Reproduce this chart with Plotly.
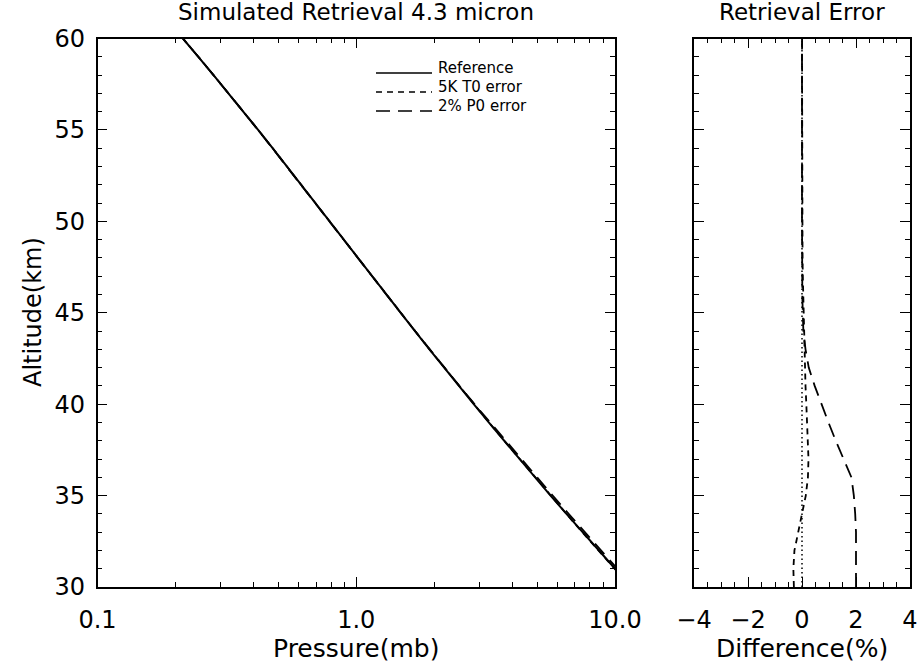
import plotly.graph_objects as go

# ---------------- data ----------------
altitude_km = list(range(30, 61))
p_reference_mb = [11.56, 9.986, 8.639, 7.482, 6.491, 5.636, 4.903, 4.272, 3.724, 3.252,
                  2.845, 2.491, 2.185, 1.918, 1.687, 1.483, 1.307, 1.151, 1.015, 0.8952,
                  0.7897, 0.6961, 0.6134, 0.5401, 0.4752, 0.4176, 0.3664, 0.3211, 0.2809,
                  0.2453, 0.2138]
diff_T0_pct = [-0.30, -0.32, -0.28, -0.15, 0.00, 0.14, 0.22, 0.24, 0.22, 0.19,
               0.16, 0.13, 0.11, 0.09, 0.07, 0.05, 0.04, 0.03, 0.02, 0.02,
               0.02, 0.01, 0.01, 0.01, 0.01, 0.01, 0.01, 0.0, 0.0, 0.0, 0.0]
diff_P0_pct = [2.00, 2.00, 2.00, 2.00, 1.97, 1.92, 1.83, 1.53, 1.25, 0.98,
               0.72, 0.47, 0.25, 0.13, 0.05, 0.02, 0.01, 0.01, 0.0, 0.0,
               0.0, 0.0, 0.0, 0.0, 0.0, 0.0, 0.0, 0.0, 0.0, 0.0, 0.0]
diff_zero_pct = [0.0] * len(altitude_km)

p_T0_mb = [p * (1 + d / 100) for p, d in zip(p_reference_mb, diff_T0_pct)]
p_P0_mb = [p * (1 + d / 100) for p, d in zip(p_reference_mb, diff_P0_pct)]

left_xticks = [0.1, 1.0, 10.0]
left_xticktext = ["0.1", "1.0", "10.0"]
series_names = ["Reference", "5K T0 error", "2% P0 error"]

# ---------------- styling ----------------
W, H = 923, 664
FONT = "DejaVu Sans"
SHORT = "6px,5px"
LONG = "14px,8px"
DASHES = ["solid", SHORT, LONG]

fig = go.Figure()
fig.add_trace(go.Scatter(x=p_reference_mb, y=altitude_km, mode="lines", name=series_names[0],
                         line=dict(color="black", width=2), xaxis="x", yaxis="y"))
fig.add_trace(go.Scatter(x=p_T0_mb, y=altitude_km, mode="lines", name=series_names[1],
                         line=dict(color="black", width=1.8, dash=SHORT), xaxis="x", yaxis="y"))
fig.add_trace(go.Scatter(x=p_P0_mb, y=altitude_km, mode="lines", name=series_names[2],
                         line=dict(color="black", width=1.8, dash=LONG), xaxis="x", yaxis="y"))

fig.add_trace(go.Scatter(x=diff_zero_pct, y=altitude_km, mode="lines",
                         line=dict(color="black", width=1.5, dash="1.5px,3px"), xaxis="x2", yaxis="y2"))
fig.add_trace(go.Scatter(x=diff_T0_pct, y=altitude_km, mode="lines",
                         line=dict(color="black", width=1.8, dash=SHORT), xaxis="x2", yaxis="y2"))
fig.add_trace(go.Scatter(x=diff_P0_pct, y=altitude_km, mode="lines",
                         line=dict(color="black", width=1.8, dash=LONG), xaxis="x2", yaxis="y2"))

left, right = 97.5 / W, 615 / W
left2, right2 = 694 / W, 910 / W
top, bottom = 1 - 38.5 / H, 1 - 587 / H

axis_common = dict(showline=True, linecolor="black", linewidth=1.5, mirror="ticks",
                   ticks="inside", ticklen=10, tickwidth=1.3, tickcolor="black",
                   showgrid=False, zeroline=False, automargin=False,
                   tickfont=dict(family=FONT, size=24, color="black"))

minor_log = [0.2, 0.3, 0.4, 0.5, 0.6, 0.7, 0.8, 0.9, 2, 3, 4, 5, 6, 7, 8, 9]

fig.update_layout(
    width=W, height=H,
    margin=dict(l=0, r=0, t=0, b=0, autoexpand=False),
    paper_bgcolor="white", plot_bgcolor="white",
    font=dict(family=FONT, color="black"),
    showlegend=False,
    xaxis=dict(axis_common, domain=[left, right], type="log", range=[-1, 1],
               tickmode="array", tickvals=left_xticks, ticktext=left_xticktext,
               ticklabelstandoff=10,
               minor=dict(tickmode="array", tickvals=minor_log, ticks="inside",
                          ticklen=5, tickwidth=1.3, tickcolor="black", showgrid=False),
               anchor="y"),
    yaxis=dict(axis_common, domain=[bottom, top], range=[30, 60], dtick=5,
               ticklabelstandoff=6,
               minor=dict(dtick=1, ticks="inside", ticklen=5, tickwidth=1.3,
                          tickcolor="black", showgrid=False),
               anchor="x"),
    xaxis2=dict(axis_common, domain=[left2, right2], range=[-4, 4], dtick=2,
                ticklabelstandoff=10,
                minor=dict(dtick=0.5, ticks="inside", ticklen=5, tickwidth=1.3,
                           tickcolor="black", showgrid=False),
                anchor="y2"),
    yaxis2=dict(axis_common, domain=[bottom, top], range=[30, 60], dtick=5,
                showticklabels=False,
                minor=dict(dtick=1, ticks="inside", ticklen=5, tickwidth=1.3,
                           tickcolor="black", showgrid=False),
                anchor="x2"),
)

annotations = [
    dict(text="Simulated Retrieval 4.3 micron", x=(97.5 + 615) / 2 / W, y=1 - 12 / H,
         font=dict(size=23)),
    dict(text="Retrieval Error", x=(694 + 910) / 2 / W, y=1 - 12 / H, font=dict(size=23)),
    dict(text="Pressure(mb)", x=(97.5 + 615) / 2 / W, y=1 - 648 / H, font=dict(size=25)),
    dict(text="Difference(%)", x=(694 + 910) / 2 / W, y=1 - 648 / H, font=dict(size=25)),
    dict(text="Altitude(km)", x=33 / W, y=1 - 312 / H, textangle=-90, font=dict(size=24)),
]
for a in annotations:
    a.update(xanchor="center")

# manual legend (IDL-style): sample line + label
legend_rows_y = [68, 87, 106]
shapes = []
for name, dash, ry in zip(series_names, DASHES, legend_rows_y):
    shapes.append(dict(type="line", xref="paper", yref="paper",
                       x0=376 / W, x1=432 / W, y0=1 - (ry + 5) / H, y1=1 - (ry + 5) / H,
                       line=dict(color="black", width=1.6, dash=dash)))
    annotations.append(dict(text=name, x=436 / W, y=1 - ry / H, xanchor="left",
                            font=dict(size=15)))

for a in annotations:
    a.update(xref="paper", yref="paper", showarrow=False, yanchor="middle")
    a["font"].update(family=FONT, color="black")
fig.update_layout(annotations=annotations, shapes=shapes)

fig.write_html("out.html")
